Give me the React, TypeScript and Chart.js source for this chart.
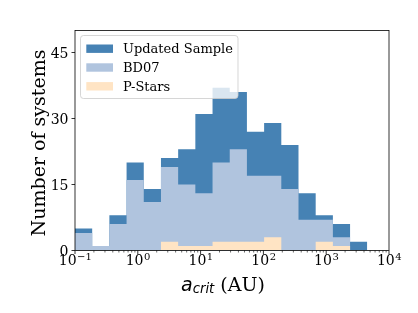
import React, { useEffect, useRef } from "react";
import { Chart, registerables } from "chart.js";
Chart.register(...registerables);

// Bin edges (AU), log-spaced
const binEdges = [0.1, 0.1878, 0.3527, 0.6625, 1.2446, 2.338, 4.391, 8.248, 15.49, 29.1, 54.65, 102.65, 192.8, 362.2, 680.1, 1277.7, 2400, 4507];
// Counts per bin
const updatedSample = [5, 1, 8, 20, 14, 21, 23, 31, 37, 36, 27, 29, 24, 13, 8, 6, 2];
const bd07 = [4, 1, 6, 16, 11, 19, 15, 13, 20, 23, 17, 17, 14, 7, 7, 3, 0];
const pStars = [0, 0, 0, 0, 0, 2, 1, 1, 2, 2, 2, 3, 0, 0, 2, 1, 0];

const yTicks = [0, 15, 30, 45];
const xTickExps = [-1, 0, 1, 2, 3, 4];
const xTickSup = ["\u22121", "0", "1", "2", "3", "4"];

const seriesNames = ["Updated Sample", "BD07", "P-Stars"];
const seriesColors = ["#4682b4", "#b0c4de", "#ffe4c4"];

const SERIF = '"DejaVu Serif", serif';
const SANS = '"DejaVu Sans", sans-serif';

function toSteps(counts: number[]) {
  const pts = counts.map((c, i) => ({ x: binEdges[i], y: c }));
  pts.push({ x: binEdges[binEdges.length - 1], y: 0 });
  return pts;
}

const overlayPlugin = {
  id: "overlay",
  afterDraw(chart: any) {
    const ctx = chart.ctx as CanvasRenderingContext2D;
    const { left, right, top, bottom } = chart.chartArea;
    const xs = chart.scales.x;
    const ys = chart.scales.y;
    ctx.save();

    // ticks
    ctx.strokeStyle = "#000";
    ctx.lineWidth = 0.8;
    ctx.beginPath();
    for (const v of yTicks) {
      const y = ys.getPixelForValue(v);
      ctx.moveTo(left, y);
      ctx.lineTo(left - 3.5, y);
    }
    for (const e of xTickExps) {
      const x = xs.getPixelForValue(Math.pow(10, e));
      ctx.moveTo(x, bottom);
      ctx.lineTo(x, bottom + 3.5);
    }
    ctx.stroke();
    ctx.lineWidth = 0.6;
    ctx.beginPath();
    for (let e = -1; e < 4; e++) {
      for (let m = 2; m <= 9; m++) {
        const x = xs.getPixelForValue(m * Math.pow(10, e));
        ctx.moveTo(x, bottom);
        ctx.lineTo(x, bottom + 2);
      }
    }
    ctx.stroke();

    // tick labels
    ctx.fillStyle = "#000";
    ctx.textBaseline = "alphabetic";
    ctx.font = `14px ${SERIF}`;
    ctx.textAlign = "right";
    for (const v of yTicks) {
      const y = ys.getPixelForValue(v);
      ctx.fillText(String(v), left - 6.5, y + 5);
    }
    ctx.textAlign = "left";
    xTickExps.forEach((e, i) => {
      const x = xs.getPixelForValue(Math.pow(10, e));
      ctx.font = `14px ${SERIF}`;
      const wb = ctx.measureText("10").width;
      ctx.font = `10px ${SERIF}`;
      const ws = ctx.measureText(xTickSup[i]).width;
      const x0 = x - (wb + ws) / 2;
      ctx.font = `14px ${SERIF}`;
      ctx.fillText("10", x0, bottom + 14);
      ctx.font = `10px ${SERIF}`;
      ctx.fillText(xTickSup[i], x0 + wb + 0.5, bottom + 9.3);
    });

    // axis titles
    ctx.save();
    ctx.font = `19px ${SERIF}`;
    ctx.textAlign = "center";
    ctx.translate(45, 143);
    ctx.rotate(-Math.PI / 2);
    ctx.fillText("Number of systems", 0, 0);
    ctx.restore();

    ctx.textAlign = "left";
    let tx = 181;
    const base = 290.5;
    ctx.font = `italic 19px ${SANS}`;
    ctx.fillText("a", tx, base);
    tx += ctx.measureText("a").width;
    ctx.font = `italic 13.3px ${SANS}`;
    ctx.fillText("crit", tx, base + 2);
    tx += ctx.measureText("crit").width;
    ctx.font = `19px ${SERIF}`;
    ctx.fillText(" (AU)", tx, base);

    // legend
    const lx = 80.5, ly = 35.5, lw = 157.5, lh = 63;
    ctx.beginPath();
    (ctx as any).roundRect(lx, ly, lw, lh, 3);
    ctx.fillStyle = "rgba(255,255,255,0.8)";
    ctx.fill();
    ctx.strokeStyle = "rgba(204,204,204,0.8)";
    ctx.lineWidth = 1;
    ctx.stroke();
    const centers = [48.7, 67.5, 86.3];
    ctx.font = `13px ${SERIF}`;
    seriesNames.forEach((name, i) => {
      ctx.fillStyle = seriesColors[i];
      ctx.fillRect(86.3, centers[i] - 4.2, 26.7, 8.4);
      ctx.fillStyle = "#000";
      ctx.fillText(name, 123, centers[i] + 4.7);
    });

    // spines
    ctx.strokeStyle = "#000";
    ctx.lineWidth = 0.8;
    ctx.strokeRect(left, top, right - left, bottom - top);
    ctx.restore();
  },
};

export default function App() {
  const ref = useRef<HTMLCanvasElement>(null);
  useEffect(() => {
    if (!ref.current) return;
    const mk = (i: number, counts: number[]) => ({
      label: seriesNames[i],
      data: toSteps(counts),
      stepped: true,
      fill: "origin",
      backgroundColor: seriesColors[i],
      borderWidth: 0,
      borderColor: "rgba(0,0,0,0)",
      pointRadius: 0,
    });
    const chart = new Chart(ref.current, {
      type: "line",
      data: {
        datasets: [mk(2, pStars), mk(1, bd07), mk(0, updatedSample)] as any,
      },
      options: {
        animation: false,
        responsive: false,
        devicePixelRatio: 1,
        layout: { padding: { left: 75, right: 29, top: 30.5, bottom: 62.5 } },
        scales: {
          x: { type: "logarithmic", min: 0.1, max: 10000, display: false },
          y: { type: "linear", min: 0, max: 50, display: false },
        },
        plugins: {
          legend: { display: false },
          tooltip: { enabled: false },
        },
      },
      plugins: [overlayPlugin],
    });
    return () => chart.destroy();
  }, []);
  return (
    <div style={{ position: "absolute", left: 0, top: 0, width: 418, height: 313, background: "#fff" }}>
      <canvas ref={ref} width={418} height={313} style={{ width: 418, height: 313 }} />
    </div>
  );
}
